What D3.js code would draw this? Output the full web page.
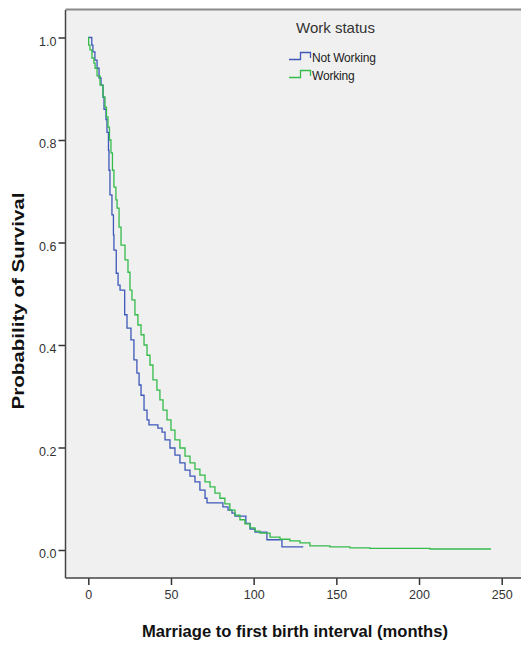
<!DOCTYPE html>
<html>
<head>
<meta charset="utf-8">
<script src="https://cdnjs.cloudflare.com/ajax/libs/d3/7.8.5/d3.min.js"></script>
<style>
	body { margin: 0; background: #fff; }
	svg { display: block; }
</style>
</head>
<body>
<div id="chart"></div>
<script>
// Kaplan-Meier estimates
var timeNotWorking = [0, 2.1, 2.8, 4.0, 5.3, 6.5, 7.7, 8.9, 9.5, 10.7, 11.3, 12.2, 12.5, 13.1, 14.3, 15.2, 15.5, 16.9, 18.0, 19.2, 22.0, 23.4, 25.8, 27.6, 29.4, 30.7, 31.9, 33.7, 35.5, 36.7, 42.1, 44.6, 46.4, 49.4, 52.4, 55.4, 58.5, 61.5, 64.5, 67.5, 70.6, 71.8, 81.4, 84.5, 86.9, 88.7, 95.3, 97.8, 100.8, 108.0, 117.1, 130.0];
var survNotWorking = [1.000, 0.985, 0.972, 0.956, 0.940, 0.921, 0.907, 0.883, 0.860, 0.840, 0.815, 0.780, 0.741, 0.693, 0.654, 0.615, 0.585, 0.540, 0.517, 0.507, 0.459, 0.433, 0.410, 0.371, 0.345, 0.322, 0.302, 0.273, 0.254, 0.244, 0.238, 0.230, 0.215, 0.199, 0.185, 0.170, 0.156, 0.144, 0.133, 0.117, 0.101, 0.092, 0.084, 0.078, 0.072, 0.066, 0.052, 0.041, 0.035, 0.020, 0.006, 0.006];

var timeWorking = [0, 0.2, 1.0, 2.2, 3.4, 4.1, 5.3, 7.1, 8.9, 10.1, 11.0, 11.9, 12.8, 13.7, 14.6, 15.5, 16.7, 17.4, 18.6, 19.8, 22.2, 24.0, 25.2, 26.4, 28.2, 30.0, 31.9, 33.7, 35.5, 37.3, 39.1, 41.5, 43.3, 45.2, 47.6, 50.0, 52.4, 55.4, 58.5, 61.5, 64.5, 67.5, 70.6, 73.6, 76.6, 79.6, 82.6, 85.6, 88.7, 91.7, 94.7, 97.8, 100.8, 103.8, 109.9, 115.9, 121.9, 128.0, 134.0, 146.1, 158.2, 170.3, 206.6, 243.5];
var survWorking = [1.000, 0.985, 0.976, 0.960, 0.950, 0.940, 0.925, 0.907, 0.884, 0.864, 0.845, 0.825, 0.800, 0.775, 0.741, 0.708, 0.683, 0.667, 0.630, 0.595, 0.566, 0.542, 0.507, 0.488, 0.459, 0.439, 0.420, 0.400, 0.380, 0.361, 0.332, 0.312, 0.293, 0.273, 0.254, 0.234, 0.215, 0.199, 0.183, 0.170, 0.158, 0.146, 0.133, 0.123, 0.111, 0.101, 0.090, 0.078, 0.068, 0.059, 0.051, 0.043, 0.037, 0.033, 0.025, 0.021, 0.018, 0.014, 0.008, 0.006, 0.004, 0.003, 0.002, 0.002];

var groups = ["Not Working", "Working"];
var groupColors = ["#3d58b8", "#34bb4a"];
var xTicks = [0, 50, 100, 150, 200, 250];
var yTicks = [0.0, 0.2, 0.4, 0.6, 0.8, 1.0];

var width = 521, height = 645,
		plot = {left: 65.5, right: 521, top: 10, bottom: 578};

var svg = d3.select("#chart").append("svg")
		.attr("width", width)
		.attr("height", height);

var x = d3.scaleLinear().domain([0, 250]).range([88.3, 501.7]);
var y = d3.scaleLinear().domain([0, 1]).range([550, 37.5]);

// Plot background and frame
svg.append("rect")
		.attr("x", plot.left)
		.attr("y", plot.top)
		.attr("width", plot.right - plot.left)
		.attr("height", plot.bottom - plot.top)
		.style("fill", "#f0f0f0");

svg.append("line")
		.attr("x1", plot.left).attr("x2", plot.right)
		.attr("y1", plot.top - 0.5).attr("y2", plot.top - 0.5)
		.style("stroke", "#8a8a8a")
		.style("stroke-width", 2);

// Axes
var yAxis = d3.axisLeft(y)
		.tickValues(yTicks)
		.tickFormat(d3.format(".1f"))
		.tickSize(7)
		.tickPadding(2);

var xAxis = d3.axisBottom(x)
		.tickValues(xTicks)
		.tickFormat(d3.format("d"))
		.tickSize(7)
		.tickPadding(5);

var gy = svg.append("g")
		.attr("transform", "translate(" + plot.left + ",0)")
		.call(yAxis);

var gx = svg.append("g")
		.attr("transform", "translate(0," + plot.bottom + ")")
		.call(xAxis);

[gx, gy].forEach(function(g) {
	g.select(".domain").remove();
	g.selectAll(".tick line").style("stroke", "#333").style("stroke-width", 1.5);
	g.selectAll(".tick text")
			.style("font-family", "'Liberation Sans', Arial, sans-serif")
			.style("font-size", "12.5px")
			.style("fill", "#333");
});
gy.selectAll(".tick text").attr("dy", "0.62em");

svg.append("line")
		.attr("x1", plot.left).attr("x2", plot.left)
		.attr("y1", plot.top).attr("y2", plot.bottom)
		.style("stroke", "#444")
		.style("stroke-width", 1.5);

svg.append("line")
		.attr("x1", plot.left).attr("x2", plot.right)
		.attr("y1", plot.bottom).attr("y2", plot.bottom)
		.style("stroke", "#444")
		.style("stroke-width", 1.5);

// Survival curves
var series = [
	d3.zip(timeNotWorking, survNotWorking),
	d3.zip(timeWorking, survWorking)
];

var line = d3.line()
		.x(function(d) { return x(d[0]); })
		.y(function(d) { return y(d[1]); })
		.curve(d3.curveStepAfter);

svg.append("g").selectAll("path")
	.data(series)
	.enter().append("path")
		.attr("d", line)
		.style("fill", "none")
		.style("stroke", function(d, i) { return groupColors[i]; })
		.style("stroke-width", 1.3);

// Axis titles
svg.append("text")
		.attr("x", 295)
		.attr("y", 637)
		.attr("text-anchor", "middle")
		.attr("textLength", 306)
		.attr("lengthAdjust", "spacingAndGlyphs")
		.style("font-family", "'Liberation Sans Narrow', 'Liberation Sans', Arial, sans-serif")
		.style("font-weight", "bold")
		.style("font-size", "17px")
		.style("fill", "#111")
		.text("Marriage to first birth interval (months)");

svg.append("text")
		.attr("transform", "translate(24,301) rotate(-90)")
		.attr("text-anchor", "middle")
		.attr("textLength", 217)
		.attr("lengthAdjust", "spacingAndGlyphs")
		.style("font-family", "'Liberation Sans', Arial, sans-serif")
		.style("font-weight", "bold")
		.style("font-size", "16px")
		.style("fill", "#111")
		.text("Probability of Survival");

// Legend
var legend = svg.append("g");

legend.append("text")
		.attr("x", 296)
		.attr("y", 33)
		.style("font-family", "'Liberation Sans', Arial, sans-serif")
		.style("font-size", "15px")
		.style("fill", "#333")
		.text("Work status");

var item = legend.selectAll(".item")
	.data(groups)
	.enter().append("g")
		.attr("class", "item")
		.attr("transform", function(d, i) { return "translate(0," + (i * 18) + ")"; });

item.append("path")
		.attr("d", "M289,59.5H300.5V52.5H310.5V58")
		.style("fill", "none")
		.style("stroke", function(d, i) { return groupColors[i]; })
		.style("stroke-width", 1.3);

item.append("text")
		.attr("x", 312)
		.attr("y", 62)
		.style("font-family", "'Liberation Sans', Arial, sans-serif")
		.style("font-size", "12px")
		.style("letter-spacing", "-0.2px")
		.style("fill", "#222")
		.text(function(d) { return d; });
</script>
</body>
</html>
